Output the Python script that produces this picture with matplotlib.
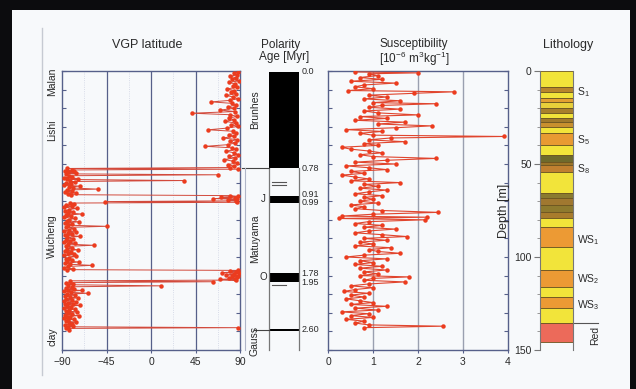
import numpy as np
import matplotlib
matplotlib.use("Agg")
import matplotlib.pyplot as plt
from matplotlib.patches import Rectangle
from matplotlib.lines import Line2D

plt.rcParams['font.family'] = ['Liberation Sans', 'DejaVu Sans']
plt.rcParams['mathtext.default'] = 'regular'

# ---- data ----
# VGP latitude (deg) against depth (m)
vgp_depth = [0.5, 1.2, 2.0, 2.8, 3.6, 4.4, 5.3, 6.1, 7.0, 7.9, 8.8, 9.6, 10.5, 11.4, 12.3, 13.1,
             14.0, 14.9, 15.8, 16.6, 17.4, 18.3, 19.2, 20.1, 21.0, 21.8, 22.7, 23.5, 24.4, 25.3,
             26.2, 27.1, 28.0, 28.9, 29.8, 30.7, 31.6, 32.4, 33.3, 34.2, 35.1, 36.0, 36.9, 37.8,
             38.7, 39.6, 40.5, 41.3, 42.2, 43.1, 44.0, 44.9, 45.8, 46.7, 47.6, 48.5, 49.4, 50.3,
             51.2, 51.9,
             52.4, 52.8, 53.2, 53.6, 54.0, 54.4, 54.8, 55.3, 55.8, 56.3, 56.8, 57.3, 57.8, 58.3,
             58.9, 59.4, 59.9, 60.4, 60.9, 61.4, 61.9, 62.4, 62.9, 63.5, 64.0, 64.5, 65.0, 65.5,
             66.0, 66.5,
             67.0, 67.4, 67.8, 68.2, 68.6, 69.0, 69.4, 69.8, 70.2, 70.6, 71.0,
             71.5, 72.1, 72.7, 73.3, 73.9, 74.5, 75.1, 75.7, 76.3, 76.9, 77.5, 78.1, 78.7, 79.3,
             79.9, 80.5, 81.1, 81.7, 82.3, 82.9, 83.5, 84.1, 84.7, 85.3, 85.9, 86.5, 87.1, 87.7,
             88.3, 88.9, 89.5, 90.1, 90.7, 91.3, 91.9, 92.5, 93.1, 93.7, 94.3, 94.9, 95.5, 96.1,
             96.7, 97.3, 97.9, 98.5, 99.1, 99.7, 100.3, 100.9, 101.5, 102.1, 102.7, 103.3, 103.9,
             104.5, 105.1, 105.7, 106.3, 106.8,
             107.2, 107.6, 108.0, 108.4, 108.8, 109.2, 109.6, 110.0, 110.4, 110.8, 111.2, 111.6,
             112.0, 112.4, 112.8, 113.3, 113.8, 114.3, 114.9, 115.5, 116.0,
             116.5, 117.0, 117.5, 118.0, 118.5, 119.0, 119.5, 120.0, 120.5, 121.0, 121.5, 122.0,
             122.5, 123.0, 123.5, 124.0, 124.5, 125.0, 125.5, 126.0, 126.5, 127.0, 127.5, 128.0,
             128.5, 129.0, 129.5, 130.0, 130.5, 131.0, 131.5, 132.0, 132.5, 133.0, 133.5, 134.0,
             134.5, 135.0, 135.5, 136.0, 136.5, 137.0, 137.5, 138.0, 138.4, 139.0]
vgp_lat = [88, 84, 87, 80, 86, 82, 89, 79, 85, 83, 87, 77, 84, 81, 86, 76,
           83, 88, 80, 61, 82, 86, 78, 84, 70, 85, 41, 80, 87, 79,
           84, 75, 86, 81, 88, 77, 58, 83, 86, 79, 84, 73, 87, 80,
           85, 78, 55, 82, 86, 76, 84, 88, 79, 85, 74, 83, 87, 78,
           84, 80,
           -85, 88, -80, -87, -78, -84, -76, -86, 68, -83, -80, -88, -74, -85,
           33, -82, -77, -86, -81, -88, -72, -83, -79, -54, -85, -80, -87, -76,
           -84, -81,
           80, 88, 71, 85, 63, 87, 78, 86, -47, 87, -82,
           -78, -86, -80, -88, -75, -83, -87, -79, -84, -70, -86, -81, -88, -77,
           -83, -85, -73, -87, -80, -84, -45, -86, -78, -83, -88, -76, -84, -80,
           -87, -72, -85, -79, -86, -82, -88, -77, -84, -58, -86, -80, -85, -74,
           -87, -81, -84, -78, -88, -76, -83, -86, -80, -85, -73, -87, -82,
           -60, -84, -88, -79, -85,
           88, 80, 86, 72, 89, 84, 76, 88, 82, 87, 79, 85,
           70, 86, -82, 63, -86, -79, -84, 10, -80,
           -86, -78, -84, -70, -88, -81, -64, -85, -77, -87, -82, -74,
           -86, -80, -88, -76, -84, -79, -87, -72, -85, -81, -88, -77,
           -83, -86, -75, -84, -80, -87, -73, -85, -82, -88, -78, -84,
           -86, -76, -83, -80, -87, -79, -84, 88, -86, -83]

# mass susceptibility (10^-6 m3/kg) against depth (m)
susc_depth = [0.5, 1.0, 1.5, 2.5, 3.5, 4.5, 5.5, 6.5, 7.5, 8.5, 9.5, 10.5, 11.2, 12.0, 13.0,
              14.0, 15.0, 16.0, 17.0, 17.6, 18.5, 19.5, 20.5, 21.5, 22.5, 23.6, 24.5, 25.5,
              26.5, 27.5, 28.5, 29.5, 30.5, 31.5, 32.5, 33.5, 34.5, 35.2, 36.0, 37.0, 38.0,
              39.0, 40.0, 41.0, 42.0, 43.0, 44.0, 45.0, 46.0, 47.0, 48.0, 49.0, 50.0, 51.0,
              52.0, 53.0, 54.0, 55.0, 56.0, 57.0, 58.0, 59.0, 60.0, 61.0, 62.0, 63.0, 64.0,
              65.0, 66.0, 67.0, 68.0, 69.0, 70.0, 71.0, 72.0, 73.0, 74.0, 75.0, 76.0, 77.0,
              78.0, 78.6, 79.3, 80.0, 81.0, 82.0, 83.0, 84.0, 85.0, 86.0, 87.0, 88.0, 89.0,
              90.0, 91.0, 92.0, 93.0, 94.0, 95.0, 96.0, 97.0, 98.0, 99.0, 100.0, 101.0, 102.0,
              103.0, 104.0, 105.0, 106.0, 107.0, 108.0, 109.0, 110.0, 110.7, 111.5, 112.5,
              113.4, 114.5, 115.5, 116.5, 117.5, 118.5, 119.5, 120.5, 121.5, 122.5, 123.5,
              124.5, 125.5, 126.5, 127.5, 128.5, 129.5, 130.5, 131.5, 132.5, 133.5, 134.5,
              135.5, 136.5, 137.2, 138.0]
susc_val = [0.6, 2.0, 0.9, 1.1, 0.7, 1.2, 0.5, 1.5, 0.8, 0.6, 1.0, 0.45, 2.8, 1.9, 0.9,
            1.3, 0.8, 1.6, 1.0, 2.4, 1.2, 0.9, 1.6, 0.8, 1.1, 2.0, 0.7, 1.3,
            0.6, 1.7, 1.1, 2.3, 1.5, 0.4, 1.2, 0.7, 1.0, 3.9, 1.4, 0.9, 1.7,
            0.8, 1.1, 0.3, 0.5, 0.9, 1.2, 0.7, 1.0, 2.4, 1.3, 0.6, 1.5, 0.4,
            0.9, 1.3, 0.5, 0.8, 0.3, 0.6, 0.9, 0.5, 1.6, 0.8, 1.1, 0.7, 1.3,
            0.9, 0.6, 1.2, 0.8, 1.0, 0.7, 1.1, 0.5, 0.8, 0.6, 1.2, 2.45, 1.0,
            0.3, 2.2, 0.25, 2.15, 0.9, 0.6, 1.2, 0.8, 1.5, 0.9, 0.6, 1.2, 1.75,
            0.8, 1.3, 0.7, 1.0, 0.6, 1.4, 0.9, 1.1, 1.6, 0.8, 0.4, 1.3, 0.7,
            1.0, 0.6, 1.2, 0.7, 1.3, 0.8, 1.1, 0.7, 1.8, 1.0, 0.8,
            1.7, 0.9, 0.5, 1.0, 0.6, 0.35, 0.9, 0.5, 0.8, 0.4, 0.7,
            1.0, 0.5, 1.3, 0.6, 1.1, 0.3, 0.9, 0.5, 1.0, 0.4, 0.8,
            0.6, 0.9, 2.55, 0.8]

# polarity column: normal intervals (depth m), thin marks, age labels
pol_top = [0.5, 67.2, 108.6, 138.7]
pol_bot = [52.2, 71.0, 113.4, 139.9]
pol_thin = [59.7, 61.3, 115.0]
age_labels = ['0.0', '0.78', '0.91', '0.99', '1.78', '1.95', '2.60']
age_depth = [0.5, 52.2, 66.3, 70.6, 109.0, 113.6, 139.2]
chron_names = ['Brunhes', 'Matuyama', 'Gauss']
chron_depth = [21, 90, 145]
sub_names = ['J', 'O']
sub_depth = [69, 111]

# lithology column
litho_top = [0, 8.6, 11.3, 14.5, 16.7, 19.9, 22.6, 25.3, 27.4, 30.1, 33.3, 39.8, 45.2, 48.9,
             50.5, 54.3, 65.6, 68.3, 72.0, 75.8, 79.0, 83.9, 94.6, 107.0, 116.1, 121.5,
             127.4, 135.5]
litho_bot = litho_top[1:] + [145.7]
litho_col = ['#f2e43a', '#b8862c', '#f2e43a', '#e2a032', '#e8d03a', '#a8802c', '#f2e43a',
             '#a07a2c', '#c8902e', '#f2e43a', '#e89a32', '#f2e43a', '#6e6a2c', '#9a7428',
             '#c08030', '#f2e43a', '#8a7a30', '#a07830', '#8e7a2e', '#a87c2c', '#f2e43a',
             '#ec9a34', '#f2e43a', '#ec9a34', '#f2e43a', '#ec9a34', '#f2e43a', '#ec6a5a']
unit_names = ['S$_1$', 'S$_5$', 'S$_8$', 'WS$_1$', 'WS$_2$', 'WS$_3$']
unit_depth = [11.3, 37, 53, 91, 112, 126]

strat_names = ['Malan', 'Lishi', 'Wucheng', 'clay']
strat_depth = [6, 32, 89, 143]

W, H = 636, 389
frame = '#56608a'
red = '#ec3c1e'
txt = '#2a2a2a'

fig = plt.figure(figsize=(W / 100, H / 100), dpi=100, facecolor='#0c0c0e')
fig.patches.append(Rectangle((12 / W, 0), (630 - 12) / W, 1 - 10 / H, transform=fig.transFigure,
                             facecolor='#f7f9fb', edgecolor='none', zorder=-5))
fig.add_artist(Line2D([42 / W, 42 / W], [1 - 28 / H, 1 - 375 / H], color='#c6cad2', lw=1))


def ftext(x, y, s, **kw):
    # place text at picture pixel position (x from left, y from top)
    fig.text(x / W, 1 - y / H, s, ha='center', va='center', color=txt, **kw)


def px_axes(x0, y0, x1, y1):
    ax = fig.add_axes([x0 / W, 1 - y1 / H, (x1 - x0) / W, (y1 - y0) / H])
    ax.patch.set_alpha(0)
    return ax


def depth_frame(ax):
    ax.set_ylim(150, 0)
    ax.set_yticks(np.arange(0, 151, 10))
    ax.tick_params(axis='y', left=True, right=True, direction='in', length=3, color=frame,
                   labelleft=False)
    ax.tick_params(axis='x', direction='out', length=2, color=frame, labelsize=7.5,
                   labelcolor=txt, pad=3)
    for s in ax.spines.values():
        s.set_color(frame)
        s.set_linewidth(1)


# titles
ftext(147, 45, 'VGP latitude', fontsize=9)
ftext(281, 45, 'Polarity', fontsize=8.5)
ftext(284, 57, 'Age [Myr]', fontsize=8.5)
ftext(414, 44, 'Susceptibility', fontsize=8.5)
ftext(414, 59, '[10$^{-6}$ m$^{3}$kg$^{-1}$]', fontsize=8.5)
ftext(568, 45, 'Lithology', fontsize=9)

# ---- VGP latitude ----
ax1 = px_axes(62, 71, 240, 350)
depth_frame(ax1)
ax1.set_xlim(-90, 90)
ax1.set_xticks([-90, -45, 0, 45, 90])
for g in [-45, 0, 45]:
    ax1.axvline(g, color=frame, lw=0.9, zorder=1)
for g in [-67.5, -22.5, 22.5, 67.5]:
    ax1.axvline(g, color='#cdd2e2', lw=0.6, ls=':', zorder=1)
ax1.plot(vgp_lat, vgp_depth, color='#d24a3c', lw=0.7, marker='o', ms=2.2, mfc=red, mec=red,
         zorder=3)
for name, d in zip(strat_names, strat_depth):
    ax1.text(-0.056, d, name, transform=ax1.get_yaxis_transform(), rotation=90, fontsize=7.5,
             color=txt, ha='center', va='center')

# ---- polarity ----
ax2 = px_axes(269, 71, 299, 350)
ax2.set_ylim(150, 0)
ax2.set_xlim(0, 1)
ax2.axis('off')
ax2.bar([0.5] * len(pol_top), np.array(pol_bot) - np.array(pol_top), bottom=pol_top, width=1,
        color='black', zorder=2)
for d in pol_thin:
    ax2.plot([0.1, 0.55], [d, d], color='#555555', lw=0.8)
ax2.plot([0, 0], [52.2, 150], color='#777777', lw=0.9, clip_on=False)
ax2.plot([1, 1], [52.2, 150], color='#777777', lw=0.9, clip_on=False)
ax2.plot([-0.9, 0], [52.2, 52.2], color='#444444', lw=0.8, clip_on=False)
ax2.plot([-0.5, 0], [139.3, 139.3], color='#444444', lw=0.8, clip_on=False)
ax2.plot([-0.8, -0.8], [52.2, 150], color='#b0b6c8', lw=0.8, clip_on=False)
for lab, d in zip(age_labels, age_depth):
    ax2.text(1.08, d, lab, fontsize=6.5, color=txt, ha='left', va='center', clip_on=False)
for name, d in zip(chron_names, chron_depth):
    ax2.text(-0.47, d, name, rotation=90, fontsize=7.5, color=txt, ha='center', va='center',
             clip_on=False)
for name, d in zip(sub_names, sub_depth):
    ax2.text(-0.2, d, name, fontsize=7, color=txt, ha='center', va='center', clip_on=False)

# ---- susceptibility ----
ax3 = px_axes(328, 71, 508, 350)
depth_frame(ax3)
ax3.set_xlim(0, 4)
ax3.set_xticks([0, 1, 2, 3, 4])
for g in [1, 2, 3]:
    ax3.axvline(g, color='#9aa0b0', lw=1, zorder=1)
ax3.plot(susc_val, susc_depth, color='#e0452e', lw=0.8, marker='o', ms=2.2, mfc=red, mec=red,
         zorder=3)

# ---- lithology ----
ax4 = px_axes(540, 71, 573, 350)
ax4.set_ylim(150, 0)
ax4.set_xlim(0, 1)
ax4.bar([0.5] * len(litho_top), np.array(litho_bot) - np.array(litho_top), bottom=litho_top,
        width=1, color=litho_col, edgecolor='#6b5420', linewidth=0.6)
ax4.set_yticks([0, 50, 100, 150])
ax4.set_yticks(np.arange(0, 151, 10), minor=True)
ax4.set_xticks([])
ax4.tick_params(axis='y', which='major', length=4, color='#777777', labelsize=7.5,
                labelcolor=txt, pad=2)
ax4.tick_params(axis='y', which='minor', length=2, color='#888888')
for s in ['top', 'bottom']:
    ax4.spines[s].set_visible(False)
for s in ['left', 'right']:
    ax4.spines[s].set_color('#777777')
ax4.set_ylabel('Depth [m]', fontsize=9, color=txt, labelpad=3)
for name, d in zip(unit_names, unit_depth):
    ax4.text(1.12, d, name, fontsize=7.5, color=txt, ha='left', va='center')
ax4.plot([1, 1.75], [135.5, 135.5], color='#555555', lw=0.8, clip_on=False)
ax4.text(1.67, 142, 'Red', rotation=90, fontsize=7.5, color=txt, ha='center', va='center')

fig.savefig('out.png', dpi=100, facecolor=fig.get_facecolor())
